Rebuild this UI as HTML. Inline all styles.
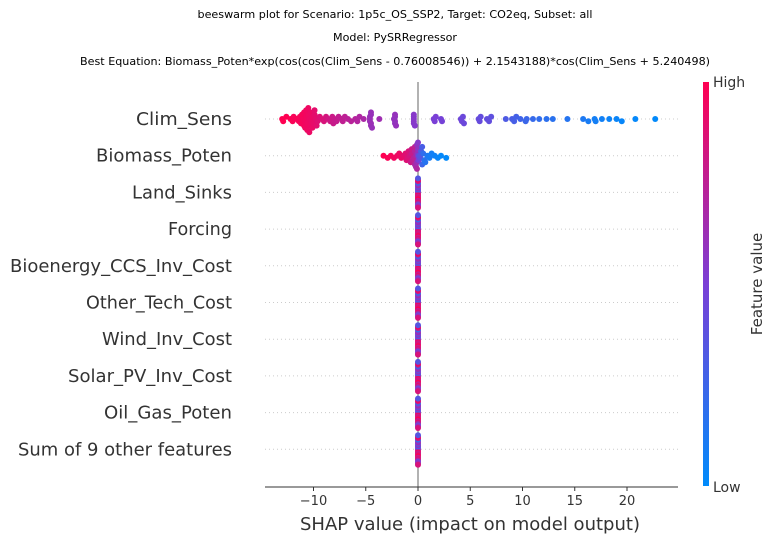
<!DOCTYPE html>
<html><head><meta charset="utf-8"><style>
body{margin:0;background:#fff;font-family:"Liberation Sans","DejaVu Sans",sans-serif}
svg text{font-family:"DejaVu Sans","Liberation Sans",sans-serif}
</style></head><body>
<svg id="chart" width="775" height="544" xmlns="http://www.w3.org/2000/svg">
<defs><linearGradient id="cb" x1="0" y1="1" x2="0" y2="0">
<stop offset="0" stop-color="#008bfb"/><stop offset="0.5" stop-color="#7a3fd6"/><stop offset="1" stop-color="#ff0052"/></linearGradient></defs>
<text x="395" y="18" font-size="10.5" text-anchor="middle" textLength="395" lengthAdjust="spacingAndGlyphs">beeswarm plot for Scenario: 1p5c_OS_SSP2, Target: CO2eq, Subset: all</text>
<text x="395" y="41" font-size="10.5" text-anchor="middle" textLength="124" lengthAdjust="spacingAndGlyphs">Model: PySRRegressor</text>
<text x="395" y="65" font-size="10.5" text-anchor="middle" textLength="630" lengthAdjust="spacingAndGlyphs">Best Equation: Biomass_Poten*exp(cos(cos(Clim_Sens - 0.76008546)) + 2.1543188)*cos(Clim_Sens + 5.240498)</text>
<g id="grid"></g>
<line x1="418" y1="82" x2="418" y2="487" stroke="#999" stroke-width="1.5"/>
<g id="dots"></g>
<g id="ylabels"></g>
<line x1="265" y1="487" x2="678" y2="487" stroke="#333" stroke-width="1"/>
<g id="xticks"></g>
<text x="470" y="530" font-size="17.5" text-anchor="middle" fill="#333" textLength="340" lengthAdjust="spacingAndGlyphs">SHAP value (impact on model output)</text>
<rect x="703" y="82" width="6" height="404" fill="url(#cb)"/>
<text x="713" y="87" font-size="14" fill="#333">High</text>
<text x="713" y="492" font-size="14" fill="#333">Low</text>
<text transform="translate(762,284) rotate(-90)" font-size="15" text-anchor="middle" fill="#333">Feature value</text>
</svg>
<script>
const features=["Clim_Sens","Biomass_Poten","Land_Sinks","Forcing","Bioenergy_CCS_Inv_Cost","Other_Tech_Cost","Wind_Inv_Cost","Solar_PV_Inv_Cost","Oil_Gas_Poten","Sum of 9 other features"];
const labelWidths=[96,136,100,64,222,146,130,164,128,214];
const xTicks=[-10,-5,0,5,10,15,20];
const climShap=[-13,-12.6,-12.2,-11.9,-11.6,-11.4,-11.2,-11,-10.9,-10.8,-10.7,-10.6,-10.5,-10.4,-10.3,-10.2,-10.1,-10,-9.9,-9.8,-9.6,-9.4,-9.2,-9,-8.8,-8.6,-8.4,-8.2,-8,-7.8,-7.6,-7.3,-7,-6.7,-6.4,-6,-5.6,-5.2,-4.6,-4.5,-4.5,-4.4,-4.6,-2.2,-2.1,-2.3,-2.2,-0.4,-0.4,-0.4,1.6,1.7,1.5,4.2,4.1,4.4,4.3,6.6,6.8,7,9,9.4,9.8,10.3,11,11.6,12.3,14.3,15.8,16.3,17,17.6,18.3,19,19.5,20.8,22.7,-11.1,-10.9,-10.8,-10.6,-10.4,-10.3,-10.1,-9.9,-9.7,-11.3,-10.7,-10.5,-4.5,-4.5,-4.6,-2.2,-2.2,-0.4,-0.4,-0.3,5.8,5.9,6,2.2,2.3,-3.7,-12.9,-12,-8.1,-7.2,-5.8,8.4,9.2,10.4,12.9,16.9];
const climFeat=[1,1,0.99,0.98,0.98,0.97,0.97,0.96,0.96,0.95,0.95,0.94,0.94,0.93,0.93,0.92,0.92,0.91,0.9,0.9,0.88,0.87,0.86,0.85,0.84,0.82,0.81,0.8,0.79,0.78,0.77,0.76,0.75,0.74,0.73,0.72,0.7,0.68,0.62,0.62,0.61,0.61,0.62,0.6,0.6,0.59,0.59,0.55,0.55,0.55,0.5,0.5,0.5,0.45,0.45,0.44,0.44,0.4,0.4,0.39,0.3,0.28,0.26,0.24,0.22,0.2,0.18,0.15,0.12,0.1,0.08,0.07,0.05,0.04,0.03,0.02,0.01,0.97,0.96,0.95,0.94,0.93,0.93,0.92,0.9,0.89,0.97,0.95,0.94,0.62,0.61,0.62,0.59,0.6,0.55,0.55,0.54,0.42,0.42,0.41,0.48,0.48,0.64,1,0.98,0.79,0.76,0.71,0.32,0.29,0.24,0.17,0.08];
const bioShap=[-3.3,-2.9,-2.6,-2.3,-2,-1.8,-1.6,-1.4,-1.2,-1.1,-1,-0.9,-0.8,-0.7,-0.6,-0.5,-0.4,-0.3,-0.3,-0.2,-0.2,-0.1,-0.1,0,0,0,0.1,0.1,0.2,0.2,0.3,0.4,0.5,0.6,0.7,0.9,1.1,1.3,1.6,1.9,2.2,2.7,-0.1,0,0.05,-0.05,0.1,-0.3,-0.6,0.4];
const bioFeat=[1,0.98,0.97,0.95,0.94,0.93,0.92,0.9,0.88,0.87,0.86,0.85,0.83,0.8,0.78,0.76,0.74,0.72,0.7,0.68,0.66,0.62,0.6,0.58,0.55,0.5,0.45,0.42,0.38,0.35,0.3,0.25,0.2,0.18,0.15,0.12,0.1,0.08,0.06,0.04,0.02,0.01,0.7,0.55,0.5,0.6,0.4,0.75,0.8,0.3];
const nearZeroShap=[0,0,0,0,0,0,0,0,0,0,0,0,0,0,0,0,0,0,0,0,0,0];
const nearZeroFeat=[0.9,0.7,0.5,0.95,0.3,0.8,0.6,0.85,0.4,1,0.65,0.75,0.55,0.9,0.2,0.7,0.8,0.45,0.95,0.6,0.35,0.85];
const rowShap=[climShap,bioShap,nearZeroShap,nearZeroShap,nearZeroShap,nearZeroShap,nearZeroShap,nearZeroShap,nearZeroShap,nearZeroShap];
const rowFeat=[climFeat,bioFeat,nearZeroFeat,nearZeroFeat,nearZeroFeat,nearZeroFeat,nearZeroFeat,nearZeroFeat,nearZeroFeat,nearZeroFeat];

const NS="http://www.w3.org/2000/svg";
const xScale=v=>418+v*10.45;
const yScale=i=>119+i*36.7;
function color(t){
  const stops=[[0,[0,139,251]],[0.5,[122,63,214]],[1,[255,0,82]]];
  let a=stops[0],b=stops[1];if(t>0.5){a=stops[1];b=stops[2];}
  const f=(t-a[0])/(b[0]-a[0]);
  const c=a[1].map((v,k)=>Math.round(v+(b[1][k]-v)*f));
  return `rgb(${c[0]},${c[1]},${c[2]})`;
}
const grid=document.getElementById('grid'),dots=document.getElementById('dots'),yl=document.getElementById('ylabels'),xt=document.getElementById('xticks');
features.forEach((name,i)=>{
  const y=yScale(i);
  const g=document.createElementNS(NS,'line');
  g.setAttribute('x1',265);g.setAttribute('x2',678);g.setAttribute('y1',y);g.setAttribute('y2',y);
  g.setAttribute('stroke','#ccc');g.setAttribute('stroke-dasharray','1 3');
  
  
  grid.appendChild(g);
  const t=document.createElementNS(NS,'text');
  t.setAttribute('x',232);t.setAttribute('y',y+6);t.setAttribute('text-anchor','end');
  t.setAttribute('font-size','17.5');t.setAttribute('fill','#333');t.textContent=name;
  t.setAttribute('textLength',labelWidths[i]);t.setAttribute('lengthAdjust','spacingAndGlyphs');
  
  
  yl.appendChild(t);
  const sv=rowShap[i],fv=rowFeat[i];
  const placed=[];
  const idx=sv.map((v,k)=>k).sort((a,b)=>sv[a]-sv[b]);
  const narrow=sv.every(v=>v===0);
  idx.forEach((k,n)=>{
    const px=xScale(sv[k]);
    let off=0;
    if(narrow){ off=(n%2?1:-1)*Math.ceil(n/2)*1.4; }
    else{
      for(let s=0;s<40;s++){
        const cand=(s%2?1:-1)*Math.ceil(s/2)*2.2;
        if(Math.abs(cand)>15)continue;
        if(!placed.some(p=>Math.abs(p[0]-px)<5.5&&Math.abs(p[1]-cand)<2.1)){off=cand;break;}
      }
    }
    placed.push([px,off]);
    const c=document.createElementNS(NS,'circle');
    c.setAttribute('cx',px);c.setAttribute('cy',y+off);c.setAttribute('r',3);
    c.setAttribute('fill',color(fv[k]));
    
    
    dots.appendChild(c);
  });
});
xTicks.forEach(v=>{
  const x=xScale(v);
  const l=document.createElementNS(NS,'line');
  l.setAttribute('x1',x);l.setAttribute('x2',x);l.setAttribute('y1',487);l.setAttribute('y2',491);l.setAttribute('stroke','#333');
  
  
  xt.appendChild(l);
  const t=document.createElementNS(NS,'text');
  t.setAttribute('x',x);t.setAttribute('y',505);t.setAttribute('text-anchor','middle');t.setAttribute('font-size','13');t.setAttribute('fill','#333');
  t.textContent=v<0?'\u2212'+(-v):String(v);
  
  
  xt.appendChild(t);
});
</script>
</body></html>
